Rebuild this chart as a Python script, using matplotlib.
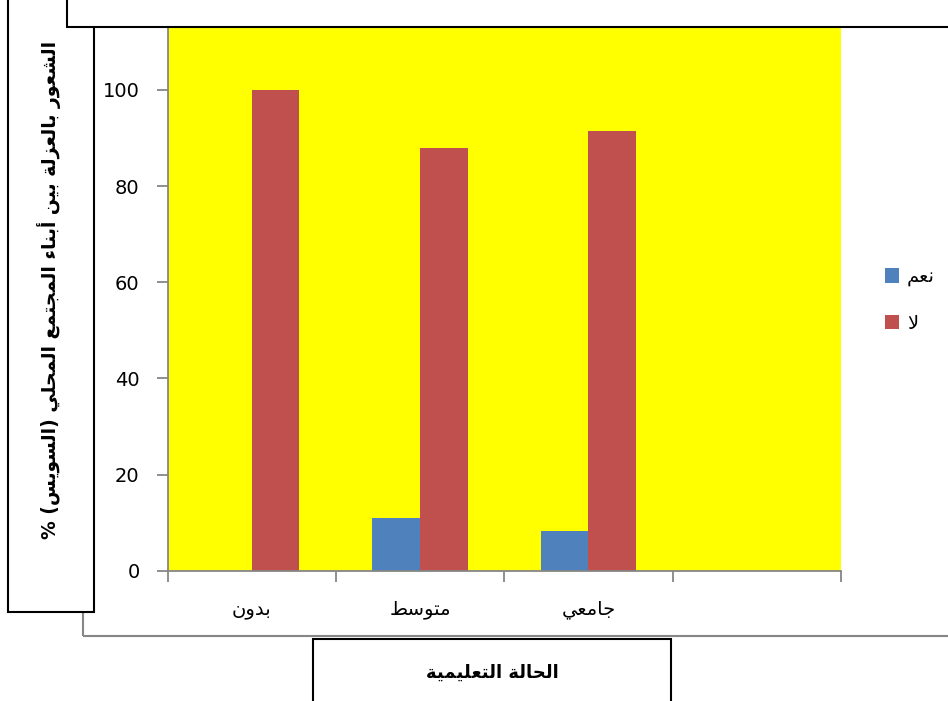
import numpy as np
import matplotlib
matplotlib.use('Agg')
import matplotlib.pyplot as plt
from matplotlib.patches import Rectangle, Patch

plt.rcParams['font.family'] = ['DejaVu Sans']

# data
categories = ['بدون', 'متوسط', 'جامعي']
n_slots = 4  # the chart keeps an empty fourth slot on the right
series_names = ['نعم', 'لا']
yes_vals = [0, 11, 8.3]
no_vals = [100, 88, 91.5]
y_ticks = [0, 20, 40, 60, 80, 100]
x_title = 'الحالة التعليمية'
y_title = 'الشعور بالعزلة بين أبناء المجتمع المحلي (السويس) %'

colors = ['#4F81BD', '#C0504D']
gray = '#868686'

# matplotlib does no arabic shaping, so pick presentation forms by hand
DUAL = {'ب': 0xFE8F, 'ت': 0xFE95, 'ج': 0xFE9D, 'ح': 0xFEA1, 'س': 0xFEB1,
        'ش': 0xFEB5, 'ط': 0xFEC1, 'ع': 0xFEC9, 'ل': 0xFEDD, 'م': 0xFEE1,
        'ن': 0xFEE5, 'ي': 0xFEF1}
RIGHT = {'أ': 0xFE83, 'ا': 0xFE8D, 'ة': 0xFE93, 'د': 0xFEA9, 'ر': 0xFEAD,
         'ز': 0xFEAF, 'و': 0xFEED}
ALONE = {'ء': 0xFE80}
LAM_ALEF = {'ا': 0xFEFB, 'أ': 0xFEF7}


def ar(text):
    out = []
    prev_joins = False
    i = 0
    n = len(text)
    while i < n:
        c = text[i]
        if c == 'ل' and i + 1 < n and text[i + 1] in LAM_ALEF:
            out.append(chr(LAM_ALEF[text[i + 1]] + (1 if prev_joins else 0)))
            prev_joins = False
            i += 2
            continue
        if c in DUAL:
            nxt = i + 1 < n and (text[i + 1] in DUAL or text[i + 1] in RIGHT)
            base = DUAL[c]
            if prev_joins and nxt:
                out.append(chr(base + 3))
            elif prev_joins:
                out.append(chr(base + 1))
            elif nxt:
                out.append(chr(base + 2))
            else:
                out.append(chr(base))
            prev_joins = True
        elif c in RIGHT:
            out.append(chr(RIGHT[c] + (1 if prev_joins else 0)))
            prev_joins = False
        elif c in ALONE:
            out.append(chr(ALONE[c]))
            prev_joins = False
        else:
            out.append(c)
            prev_joins = False
        i += 1
    mirror = {'(': ')', ')': '('}
    return ''.join(mirror.get(ch, ch) for ch in reversed(out))


W, H = 948, 701
fig = plt.figure(figsize=(W / 100, H / 100), dpi=100)


def fx(px):
    return px / W


def fy(py):
    return 1 - py / H


# axes: yellow plot area, y 0..120 with the top hidden under the title box
ax_left, ax_right, ax_bottom = 167.5, 841, 570.7
px_per_unit = (570.7 - 90) / 100
ax_top = ax_bottom - 120 * px_per_unit
ax = fig.add_axes([fx(ax_left), fy(ax_bottom), fx(ax_right - ax_left),
                   (ax_bottom - ax_top) / H])
ax.set_facecolor('#FFFF00')

centers = np.arange(len(categories)) + 0.5
bw = 0.283
ax.bar(centers - bw / 2, yes_vals, bw, color=colors[0], zorder=2)
ax.bar(centers + bw / 2, no_vals, bw, color=colors[1], zorder=2)

ax.set_xlim(0, n_slots)
ax.set_ylim(0, 120)
ax.set_yticks(y_ticks)
ax.set_yticklabels([str(v) for v in y_ticks], fontsize=14)
ax.set_xticks(np.arange(n_slots + 1))
ax.set_xticklabels([])
ax.set_xticks(centers, minor=True)
ax.set_xticklabels([ar(c) for c in categories], minor=True, fontsize=14)
ax.tick_params(axis='x', which='minor', length=0, pad=21)
ax.tick_params(axis='both', which='major', length=8, color=gray, width=1.3)
ax.tick_params(axis='y', pad=12)
for side in ['top', 'right']:
    ax.spines[side].set_visible(False)
for side in ['left', 'bottom']:
    ax.spines[side].set_color(gray)
    ax.spines[side].set_linewidth(1.3)

# chart area border (gray)
fig.add_artist(Rectangle((fx(83), fy(636)), fx(990 - 83), (636 + 10) / H,
                         transform=fig.transFigure, fill=False,
                         edgecolor=gray, lw=1.5, zorder=1))

# y title box
fig.add_artist(Rectangle((fx(8), fy(612)), fx(94 - 8), (612 + 10) / H,
                         transform=fig.transFigure, facecolor='white',
                         edgecolor='black', lw=1.5, zorder=2))
fig.text(fx(49), fy(290), ar(y_title), rotation=90, ha='center', va='center',
         fontsize=13.5, fontweight='bold')

# title box at the top
fig.add_artist(Rectangle((fx(67), fy(27)), fx(990 - 67), (27 + 10) / H,
                         transform=fig.transFigure, facecolor='white',
                         edgecolor='black', lw=1.5, zorder=3))

# x title box
fig.add_artist(Rectangle((fx(313), fy(720)), fx(671 - 313), (720 - 639) / H,
                         transform=fig.transFigure, facecolor='white',
                         edgecolor='black', lw=1.5, zorder=2))
fig.text(fx(492), fy(673), ar(x_title), ha='center', va='center',
         fontsize=13, fontweight='bold')

handles = [Patch(facecolor=c) for c in colors]
fig.legend(handles, [ar(s) for s in series_names], loc='center left',
           bbox_to_anchor=(fx(867), fy(300)), frameon=False, fontsize=14,
           handlelength=0.75, handleheight=0.75, handletextpad=0.4,
           labelspacing=1.4)

fig.savefig('out.png', dpi=100)
